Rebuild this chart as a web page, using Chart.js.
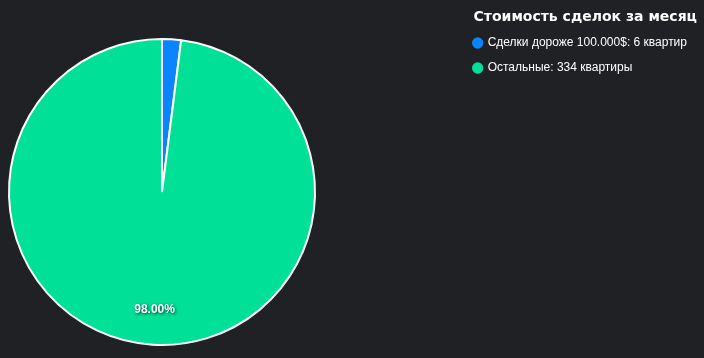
<!DOCTYPE html>
<html lang="ru">
<head>
    <meta charset="UTF-8">
    <title>Стоимость сделок за месяц</title>
    <script src="https://cdn.jsdelivr.net/npm/chart.js"></script>
    <style>
        body { margin: 0; background: #202124; }
        #wrap { width: 704px; height: 358px; }
    </style>
</head>
<body>
<div id="wrap"><canvas id="dealsChart"></canvas></div>

<script>
    const legendTitle = 'Стоимость сделок за месяц';
    const sliceLabels = ['Сделки дороже 100.000$: 6 квартир', 'Остальные: 334 квартиры'];
    const sharePercent = [2, 98];
    const sliceColors = ['#0a84ff', '#00e096'];

    // the pie sits in the left part, the legend stays at the right edge
    const pieArea = { left: 8, top: 38, right: 316, bottom: 346 };

    Chart.defaults.font.family = '"Liberation Sans", Arial, sans-serif';

    const pieAreaPlugin = {
        id: 'pieArea',
        afterLayout(chart) {
            const a = chart.chartArea;
            a.left = pieArea.left;
            a.top = pieArea.top;
            a.right = pieArea.right;
            a.bottom = pieArea.bottom;
            a.width = a.right - a.left;
            a.height = a.bottom - a.top;
        }
    };

    // percentage text on the big slice
    const percentLabels = {
        id: 'percentLabels',
        afterDatasetsDraw(chart) {
            const ctx = chart.ctx;
            const meta = chart.getDatasetMeta(0);
            ctx.save();
            ctx.font = 'bold 12px "Liberation Sans", Arial, sans-serif';
            ctx.fillStyle = '#fff';
            ctx.textAlign = 'center';
            ctx.textBaseline = 'middle';
            ctx.shadowColor = 'rgba(0, 0, 0, 0.75)';
            ctx.shadowBlur = 3;
            ctx.shadowOffsetX = 1;
            ctx.shadowOffsetY = 1;
            meta.data.forEach((arc, i) => {
                const value = sharePercent[i];
                if (value < 5) return;
                const p = arc.getProps(['x', 'y', 'startAngle', 'endAngle', 'outerRadius']);
                const mid = (p.startAngle + p.endAngle) / 2;
                const r = p.outerRadius * 0.77;
                ctx.fillText(value.toFixed(2) + '%', p.x + Math.cos(mid) * r, p.y + Math.sin(mid) * r);
            });
            ctx.restore();
        }
    };

    new Chart(document.getElementById('dealsChart'), {
        type: 'pie',
        data: {
            labels: sliceLabels,
            datasets: [{
                data: sharePercent,
                backgroundColor: sliceColors,
                borderColor: '#fff',
                borderWidth: 2
            }]
        },
        options: {
            responsive: true,
            maintainAspectRatio: false,
            animation: false,
            layout: { padding: { top: 8, right: 7 } },
            plugins: {
                legend: {
                    position: 'right',
                    align: 'start',
                    title: {
                        display: true,
                        text: legendTitle,
                        color: '#fff',
                        position: 'end',
                        font: { family: '"DejaVu Sans", sans-serif', size: 14, weight: 'bold', lineHeight: 1 },
                        padding: { top: 2, bottom: 0 }
                    },
                    labels: {
                        color: '#fff',
                        usePointStyle: true,
                        pointStyle: 'circle',
                        boxWidth: 8,
                        boxHeight: 8,
                        padding: 13,
                        font: { size: 12 },
                        generateLabels(chart) {
                            const items = Chart.overrides.doughnut.plugins.legend.labels.generateLabels(chart);
                            items.forEach(item => {
                                item.lineWidth = 0;
                                item.strokeStyle = item.fillStyle;
                            });
                            return items;
                        }
                    }
                },
                tooltip: { enabled: false }
            }
        },
        plugins: [pieAreaPlugin, percentLabels]
    });
</script>
</body>
</html>
